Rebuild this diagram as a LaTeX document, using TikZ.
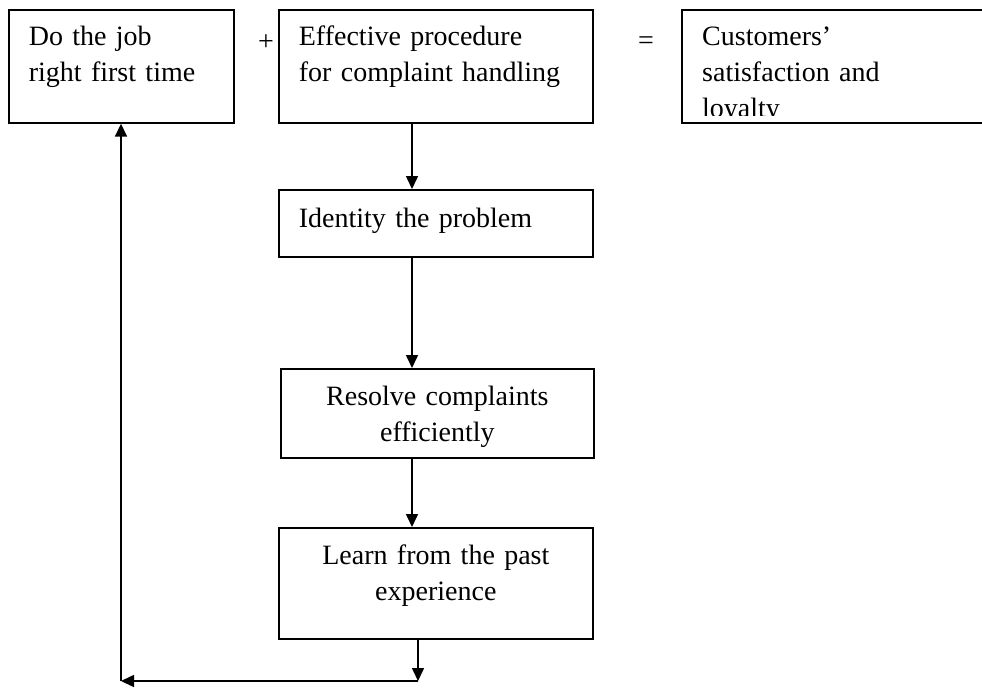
\documentclass[tikz,border=0pt]{standalone}
\usepackage{fontspec}
\setmainfont{Liberation Serif}
\usetikzlibrary{arrows.meta, positioning, calc}
\tikzset{
  cbox/.style = {draw=black, fill=white, line width=1.7pt, rectangle,
    inner xsep=20pt, inner ysep=0pt, anchor=north west,
    font=\fontsize{28}{36}\selectfont},
  ctxt/.style = {inner sep=0pt, font=\fontsize{28}{36}\selectfont},
  carr/.style = {-{Triangle[length=13pt, width=12pt]}, line width=1.6pt}
}

\begin{document}
\begin{tikzpicture}[x=1pt, y=-1pt]
  \clip (0,0) rectangle (982,688);
  \fill [white] (0,0) rectangle (982,688);
  % top row
  \node [cbox, text width=185pt, align=left, text height=36pt, text depth=77pt]
    (job) at (8,9) {Do the job\\right first time};
  \node [ctxt] (plus) at (266,43) {+};
  \node [cbox, text width=274pt, align=left, text height=36pt, text depth=77pt]
    (eff) at (278,9) {Effective procedure\\for complaint handling};
  \node [ctxt] (eq) at (646,43) {=};
  \node [cbox, minimum width=320pt, minimum height=113pt] (cust) at (681,9) {};
  \begin{scope}
    \clip (682,10) rectangle (982,115.5);
    \node [ctxt, anchor=base west, text width=260pt, align=left] (custtxt)
      at (702,45) {Customers'\\satisfaction and\\loyalty};
  \end{scope}
  % process column
  \node [cbox, text width=274pt, align=left, text height=38pt, text depth=29pt]
    (ident) at (278,189) {Identity the problem};
  \node [cbox, text width=273pt, align=center, text height=37pt, text depth=52pt]
    (resolve) at (280,368) {Resolve complaints\\efficiently};
  \node [cbox, text width=274pt, align=center, text height=37pt, text depth=74pt]
    (learn) at (278,527) {Learn from the past\\experience};
  \coordinate (ax) at (412,0);
  \coordinate (c1) at (418,681);
  \coordinate (c2) at (121,681);
  \draw [carr] (eff.south -| ax) -- (ident.north -| ax);
  \draw [carr] (ident.south -| ax) -- (resolve.north -| ax);
  \draw [carr] (resolve.south -| ax) -- (learn.north -| ax);
  % feedback loop
  \draw [carr] (learn.south -| c1) -- (c1);
  \draw [carr] (c1) -- (c2);
  \draw [carr] (c2) -- (job.south -| c2);
\end{tikzpicture}
\end{document}
